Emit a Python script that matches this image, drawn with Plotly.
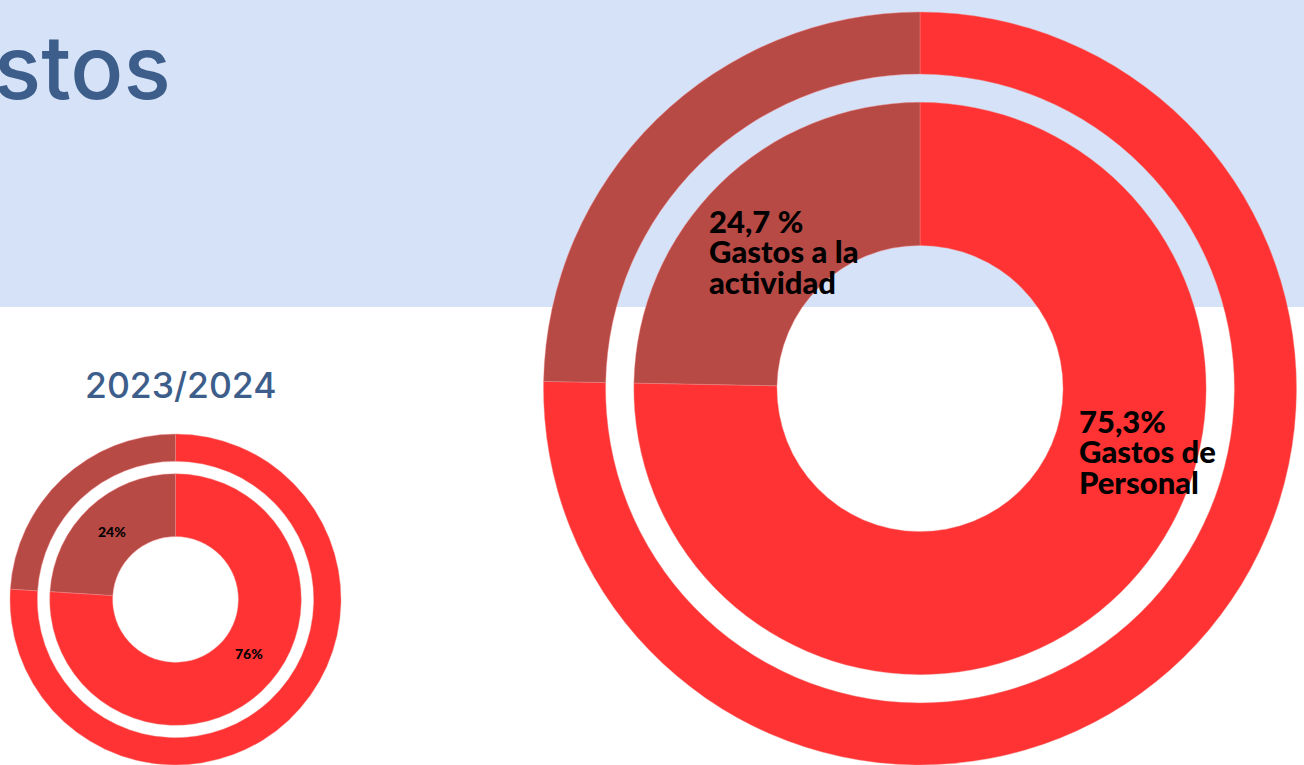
import plotly.graph_objects as go

# ---------------- data ----------------
categories = ["Gastos de Personal", "Gastos a la actividad"]
values_main = [75.3, 24.7]          # large donut (both rings)
values_2023_24 = [76, 24]           # small donut (both rings)
main_pct_labels = ["75,3%", "24,7 %"]
main_cat_lines = [["Gastos de", "Personal"], ["Gastos a la", "actividad"]]
small_pct_labels = [f"{v}%" for v in values_2023_24]
title_text = "Gastos"
year_label = "2023/2024"

# ---------------- style ----------------
W, H = 1304, 765
colors = ["#FF3333", "#B84A46"]
band_color = "#D5E2F7"
title_color = "#3D5E8B"

OUTER_HOLE = 0.835   # inner edge of outer ring / outer radius
INNER_R = 0.76       # outer edge of inner ring / outer radius
INNER_HOLE = 0.5     # hole / inner-ring radius


def dom(cx, cy, r):
    return dict(x=[(cx - r) / W, (cx + r) / W],
                y=[max(0, 1 - (cy + r) / H), min(1, 1 - (cy - r) / H)])


def donut(cx, cy, R, values):
    traces = []
    for r, hole in [(R, OUTER_HOLE), (R * INNER_R, INNER_HOLE)]:
        traces.append(go.Pie(
            labels=categories, values=values, sort=False,
            direction="clockwise", rotation=0,
            hole=hole, domain=dom(cx, cy, r),
            marker=dict(colors=colors, line=dict(color="rgba(240,140,140,0.7)", width=0.6)),
            textinfo="none", hoverinfo="skip", showlegend=False,
        ))
    return traces


fig = go.Figure()
for t in donut(920, 388.5, 376.5, values_main):
    fig.add_trace(t)
for t in donut(175.5, 599.5, 165.5, values_2023_24):
    fig.add_trace(t)

shapes = [dict(type="rect", xref="paper", yref="paper", x0=0, x1=1,
               y0=1 - 307 / H, y1=1, fillcolor=band_color,
               line=dict(width=0), layer="below")]

ann = []


def A(text, x, y, size, color="black", weight=900, family="Lato",
      xanchor="left", yanchor="middle"):
    ann.append(dict(text=text, x=x / W, y=1 - y / H, xref="paper", yref="paper",
                    showarrow=False, xanchor=xanchor, yanchor=yanchor,
                    font=dict(size=size, color=color, family=family, weight=weight)))


# title (cut at left edge)
A(title_text, 173, 67, 88, color=title_color, weight=500, family="Inter",
  xanchor="right")
A(year_label, 180, 385, 35.5, color=title_color, weight=500, family="Inter",
  xanchor="center")

# large donut labels
A(main_pct_labels[1], 707, 221, 31)
A(main_cat_lines[1][0], 707, 251, 31)
A(main_cat_lines[1][1], 707, 282, 31)
A(main_pct_labels[0], 1077, 420.5, 31)
A(main_cat_lines[0][0], 1077, 451, 31)
A(main_cat_lines[0][1], 1077, 481.5, 31)

# small donut labels
A(small_pct_labels[1], 112, 531.5, 14, xanchor="center")
A(small_pct_labels[0], 249, 653, 14, xanchor="center")

fig.update_layout(width=W, height=H, margin=dict(l=0, r=0, t=0, b=0),
                  paper_bgcolor="white", plot_bgcolor="white",
                  shapes=shapes, annotations=ann)

fig.write_html("out.html", config={"displayModeBar": False},
               post_script="document.body.style.margin='0';document.body.style.overflow='hidden';")
